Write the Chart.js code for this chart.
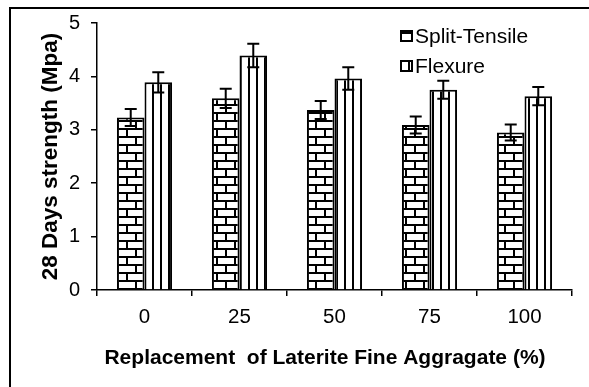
<!DOCTYPE html>
<html>
<head>
<meta charset="utf-8">
<script src="https://cdn.jsdelivr.net/npm/chart.js@4"></script>
<style>
  html, body { margin: 0; padding: 0; background: #fff; }
  #wrap { width: 589px; height: 387px; }
</style>
</head>
<body>
<div id="wrap"><canvas id="strengthChart" width="589" height="387"></canvas></div>
<script>
var categories = ['0', '25', '50', '75', '100'];
var splitTensile = [3.23, 3.59, 3.37, 3.09, 2.95];
var splitTensileErr = [0.16, 0.18, 0.17, 0.16, 0.15];
var flexure = [3.89, 4.39, 3.96, 3.75, 3.63];
var flexureErr = [0.19, 0.22, 0.21, 0.17, 0.17];
var yTicks = [0, 1, 2, 3, 4, 5];
var xTitle = 'Replacement  of Laterite Fine Aggragate (%)';

// brick hatch for split-tensile
function brickPattern(ctx) {
    var c = document.createElement('canvas');
    c.width = 18; c.height = 16;
    var p = c.getContext('2d');
    p.fillStyle = '#fff';
    p.fillRect(0, 0, 18, 16);
    p.fillStyle = '#000';
    p.fillRect(0, 0, 18, 2);
    p.fillRect(0, 8, 18, 2);
    p.fillRect(0, 0, 2, 8);
    p.fillRect(9, 8, 2, 8);
    return ctx.createPattern(c, 'repeat');
}

// vertical lines for flexure
function stripePattern(ctx) {
    var c = document.createElement('canvas');
    c.width = 8; c.height = 8;
    var p = c.getContext('2d');
    p.fillStyle = '#fff';
    p.fillRect(0, 0, 8, 8);
    p.fillStyle = '#000';
    p.fillRect(0, 0, 2, 8);
    return ctx.createPattern(c, 'repeat');
}

var ctx = document.getElementById('strengthChart').getContext('2d');
var brick = brickPattern(ctx);
var stripe = stripePattern(ctx);

Chart.defaults.font.family = '"Liberation Sans", Arial, sans-serif';
Chart.defaults.color = '#000';

var errors = [splitTensileErr, flexureErr];

var errorBars = {
    id: 'errorBars',
    afterDatasetsDraw: function(chart) {
        var c = chart.ctx;
        var y = chart.scales.y;
        c.save();
        c.strokeStyle = '#000';
        c.lineWidth = 2;
        chart.data.datasets.forEach(function(ds, i) {
            var meta = chart.getDatasetMeta(i);
            meta.data.forEach(function(bar, j) {
                var v = ds.data[j], e = errors[i][j];
                var top = y.getPixelForValue(v + e);
                var bot = y.getPixelForValue(v - e);
                c.beginPath();
                c.moveTo(bar.x, top); c.lineTo(bar.x, bot);
                c.moveTo(bar.x - 6, top); c.lineTo(bar.x + 6, top);
                c.moveTo(bar.x - 6, bot); c.lineTo(bar.x + 6, bot);
                c.stroke();
            });
        });
        c.restore();
    }
};

var frameAndLegend = {
    id: 'frameAndLegend',
    afterDraw: function(chart) {
        var c = chart.ctx;
        c.save();
        c.strokeStyle = '#000';
        c.lineWidth = 2;
        c.beginPath();
        c.moveTo(10, 387); c.lineTo(10, 8); c.lineTo(589, 8);
        c.stroke();

        // x axis title, sits a bit left of the plot centre in the original
        c.fillStyle = '#000';
        c.font = 'bold 21px "Liberation Sans", Arial, sans-serif';
        c.textAlign = 'center';
        c.textBaseline = 'middle';
        c.fillText(xTitle, 325, 358);

        var items = [['Split-Tensile', brick], ['Flexure', stripe]];
        c.font = '21px "Liberation Sans", Arial, sans-serif';
        c.textAlign = 'left';
        items.forEach(function(it, k) {
            var bx = 401, by = 31 + k * 30;
            c.fillStyle = it[1];
            c.fillRect(bx, by, 11, 10);
            c.lineWidth = 2;
            c.strokeRect(bx, by, 11, 10);
            c.fillStyle = '#000';
            c.fillText(it[0], 415, by + 6);
        });
        c.restore();
    }
};

new Chart(ctx, {
    type: 'bar',
    data: {
        labels: categories,
        datasets: [
            {
                label: 'Split-Tensile',
                data: splitTensile,
                backgroundColor: brick,
                borderColor: '#000',
                borderWidth: 2,
                categoryPercentage: 0.58,
                barPercentage: 1.0
            },
            {
                label: 'Flexure',
                data: flexure,
                backgroundColor: stripe,
                borderColor: '#000',
                borderWidth: 2,
                categoryPercentage: 0.58,
                barPercentage: 1.0
            }
        ]
    },
    options: {
        responsive: false,
        animation: false,
        layout: { padding: { top: 23, right: 17, left: 0, bottom: 0 } },
        plugins: {
            legend: { display: false },
            tooltip: { enabled: false }
        },
        scales: {
            x: {
                grid: { drawOnChartArea: false, drawTicks: true, tickLength: 6, color: '#000', lineWidth: 1.5 },
                border: { display: true, color: '#000', width: 1.5 },
                ticks: { font: { size: 20.5 }, padding: 9, color: '#000' },
                afterFit: function(s) { s.height = 97; }
            },
            y: {
                min: 0,
                max: 5,
                afterBuildTicks: function(s) { s.ticks = yTicks.map(function(v) { return { value: v }; }); },
                grid: { drawOnChartArea: false, drawTicks: true, tickLength: 6, color: '#000', lineWidth: 1.5 },
                border: { display: true, color: '#000', width: 1.5 },
                ticks: { font: { size: 20 }, padding: 11, color: '#000' },
                title: {
                    display: true,
                    text: '28 Days strength (Mpa)',
                    font: { size: 22.5, weight: 'bold' },
                    padding: { top: 37, bottom: 0 },
                    color: '#000'
                },
                afterFit: function(s) { s.width = 97; }
            }
        }
    },
    plugins: [errorBars, frameAndLegend]
});
</script>
</body>
</html>
